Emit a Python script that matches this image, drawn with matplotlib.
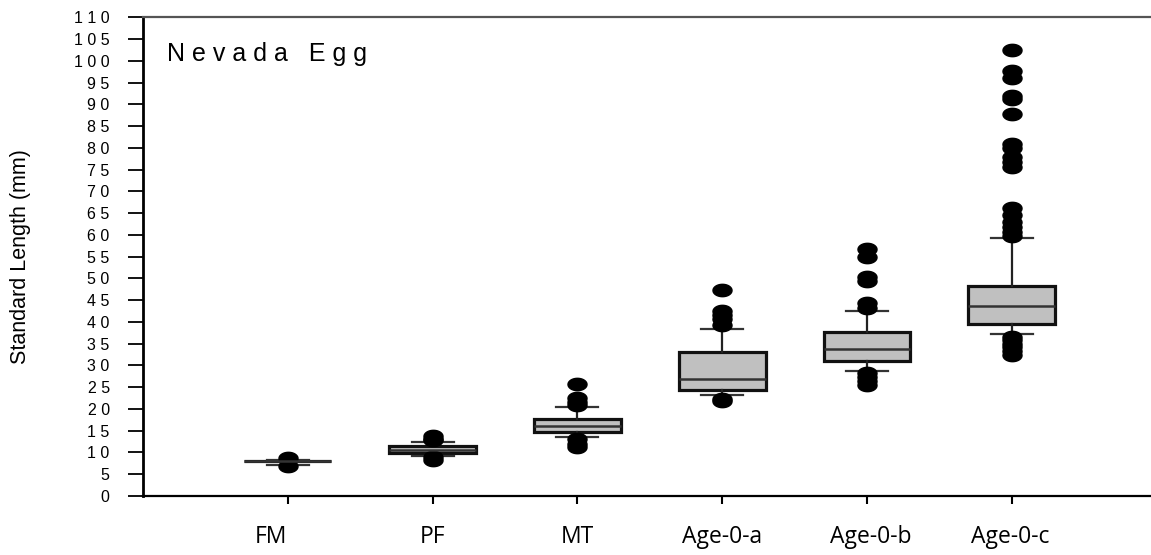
import numpy as np
import matplotlib
matplotlib.use('Agg')
import matplotlib.pyplot as plt
from matplotlib.path import Path
from matplotlib.transforms import ScaledTranslation

groups = ['FM', 'PF', 'MT', 'Age-0-a', 'Age-0-b', 'Age-0-c']
q1s = [7.95, 9.8, 14.7, 24.4, 31.0, 39.5]
medians = [8.0, 10.6, 16.2, 27.0, 33.8, 43.6]
q3s = [8.05, 11.4, 17.7, 33.2, 37.6, 48.2]
whis_lo = [7.1, 9.3, 13.6, 23.2, 28.7, 37.2]
whis_hi = [8.3, 12.3, 20.4, 38.4, 42.5, 59.3]
fliers = [
    [8.7, 6.9],
    [13.9, 13.2, 12.8, 8.9, 8.2],
    [25.7, 22.5, 21.6, 20.8, 13.1, 12.0, 11.3],
    [47.3, 42.4, 41.6, 40.6, 39.2, 22.4, 21.9],
    [56.7, 54.9, 50.3, 49.5, 44.3, 43.3, 28.2, 27.3, 26.4, 25.5],
    [102.5, 97.6, 96.0, 92.0, 91.2, 87.8, 81.0, 79.9, 77.8, 76.7, 75.6,
     66.2, 64.6, 63.0, 61.8, 60.6, 59.8, 36.6, 35.8, 35.0, 34.2, 33.3, 32.4],
]
yticks = np.arange(0, 111, 5)

stats = []
for i in range(len(groups)):
    stats.append({'label': groups[i], 'q1': q1s[i], 'med': medians[i], 'q3': q3s[i],
                  'whislo': whis_lo[i], 'whishi': whis_hi[i], 'fliers': fliers[i]})

# flattened circle for the outliers
t = np.linspace(0, 2 * np.pi, 60)
ellipse = Path(np.column_stack([np.cos(t), 0.65 * np.sin(t)]), closed=True)

fig = plt.figure(figsize=(11.51, 5.55), dpi=100)
ax = fig.add_axes([143 / 1151, 59 / 555, 1008 / 1151, 478.7 / 555])

positions = np.arange(1, len(groups) + 1)
ax.bxp(stats, positions=positions, widths=0.6, capwidths=0.29, patch_artist=True,
       boxprops=dict(facecolor='#c0c0c0', edgecolor='#111111', linewidth=2.3),
       medianprops=dict(color='#333333', linewidth=1.8),
       whiskerprops=dict(color='#222222', linewidth=1.6),
       capprops=dict(color='#333333', linewidth=1.6),
       flierprops=dict(marker=ellipse, markersize=13.7, markerfacecolor='black',
                       markeredgecolor='black', linestyle='none'))

ax.set_xlim(0, 1008 / 144.8)
ax.set_ylim(0, 110)
ax.set_yticks(yticks)
ax.set_yticklabels([' '.join(str(v)) for v in yticks], fontsize=11.5,
                   family='Liberation Sans')
ax.set_xticks(positions)
ax.set_xticklabels(groups, fontsize=16.5, family='Open Sans')
ax.tick_params(axis='y', direction='out', length=11, width=1.3, pad=13)
ax.tick_params(axis='x', direction='out', length=6, width=1.5, pad=15)

label_dx = [-17, 0, 0, 0, 4, -2]
for lab, dx in zip(ax.get_xticklabels(), label_dx):
    lab.set_transform(lab.get_transform() + ScaledTranslation(dx / 100, 0, fig.dpi_scale_trans))

ax.spines['right'].set_visible(False)
ax.spines['left'].set_linewidth(2)
ax.spines['bottom'].set_linewidth(1.6)
ax.spines['top'].set_linewidth(1.6)
ax.spines['top'].set_color('#555555')

ax.set_ylabel('Standard Length (mm)', fontsize=15.5, family='Liberation Sans')
ax.yaxis.set_label_coords(-0.111, 0.5)

fig.text(167 / 1151, 1 - 54 / 555, 'N e v a d a   E g g',
         fontsize=18, family='Liberation Sans', va='center', ha='left')

plt.savefig('out.png', dpi=100)
